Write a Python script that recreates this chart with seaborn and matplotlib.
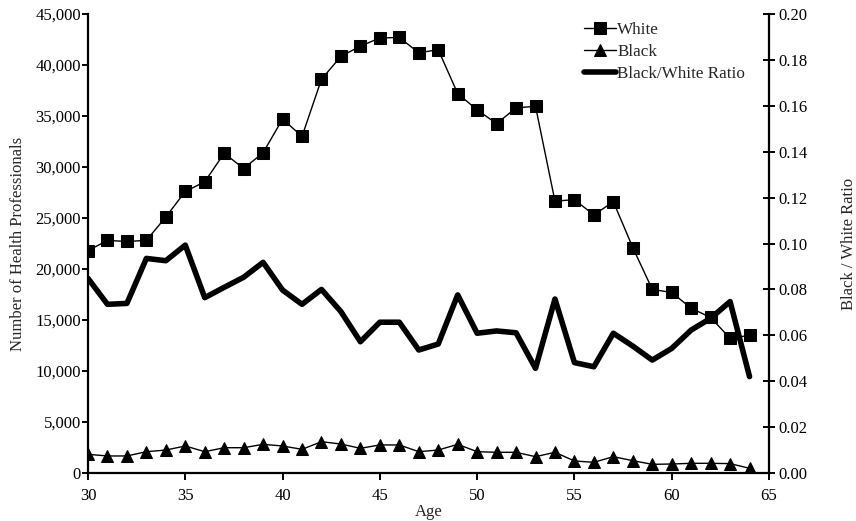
import matplotlib
matplotlib.use("Agg")
import matplotlib.pyplot as plt
import matplotlib.ticker as mticker
import seaborn as sns

# Health professionals by single year of age
ages = list(range(30, 65))
white = [21800, 22800, 22700, 22800, 25100, 27600, 28550, 31350, 29850, 31400,
         34700, 33000, 38600, 40850, 41850, 42650, 42700, 41200, 41500, 37200,
         35600, 34250, 35800, 35950, 26650, 26800, 25300, 26600, 22100, 18000,
         17700, 16150, 15250, 13200, 13500]
black = [1830, 1670, 1670, 2090, 2250, 2650, 2090, 2480, 2480, 2810,
         2650, 2320, 3070, 2840, 2420, 2750, 2750, 2090, 2250, 2810,
         2090, 2030, 2030, 1600, 2030, 1180, 1050, 1600, 1210, 850,
         880, 950, 950, 920, 460]
ratio = [0.0848, 0.0735, 0.0739, 0.0935, 0.0925, 0.0993, 0.0764, 0.0809, 0.0853, 0.0918,
         0.0797, 0.0735, 0.0800, 0.0703, 0.0572, 0.0657, 0.0657, 0.0536, 0.0562, 0.0776,
         0.0609, 0.0619, 0.0611, 0.0456, 0.0758, 0.0481, 0.0463, 0.0609, 0.0553, 0.0492,
         0.0543, 0.0623, 0.0674, 0.0747, 0.0420]

sns.set_theme(style="white")
plt.rcParams["font.family"] = ["Liberation Serif", "DejaVu Serif"]
plt.rcParams["font.size"] = 12

W, H = 856, 521
fig = plt.figure(figsize=(W / 100, H / 100), dpi=100)
ax = fig.add_axes([88 / W, 48 / H, (769 - 88) / W, (473 - 14) / H])

sns.lineplot(x=ages, y=white, ax=ax, color="black", linewidth=1.0,
             marker="s", markersize=9, markeredgecolor="black",
             label="White", legend=False)
sns.lineplot(x=ages, y=black, ax=ax, color="black", linewidth=1.0,
             marker="^", markersize=9, markeredgecolor="black",
             label="Black", legend=False)

ax2 = ax.twinx()
sns.lineplot(x=ages, y=ratio, ax=ax2, color="black", linewidth=4.0,
             label="Black/White Ratio", legend=False)

ax.set_xlim(30, 65)
ax.set_ylim(0, 45000)
ax2.set_ylim(0, 0.20)
ax.xaxis.set_major_locator(mticker.MultipleLocator(5))
ax.yaxis.set_major_locator(mticker.MultipleLocator(5000))
ax.yaxis.set_major_formatter(mticker.FuncFormatter(lambda v, p: f"{int(v):,}"))
ax2.yaxis.set_major_locator(mticker.MultipleLocator(0.02))
ax2.yaxis.set_major_formatter(mticker.FormatStrFormatter("%.2f"))

for a in (ax, ax2):
    a.grid(False)
    a.spines["top"].set_visible(False)
    for s in ("left", "right", "bottom"):
        a.spines[s].set_linewidth(1.6)
        a.spines[s].set_color("black")
ax.spines["right"].set_visible(False)
ax2.spines["left"].set_visible(False)
ax2.spines["bottom"].set_visible(False)

ax.tick_params(axis="y", direction="out", length=4, width=1.4, labelsize=12,
               left=True, pad=1, colors="black")
ax.tick_params(axis="x", direction="out", length=5, width=1.4, labelsize=12,
               bottom=True, pad=6, colors="black")
ax2.tick_params(axis="y", direction="inout", length=8, width=1.4, labelsize=12,
                right=True, pad=3, colors="black")

ax.set_xlabel("Age", fontsize=12, labelpad=0)
ax.set_ylabel("Number of Health Professionals", fontsize=12, labelpad=7)
ax2.set_ylabel("Black / White Ratio", fontsize=12, labelpad=24)

handles = ax.get_lines()[:2] + ax2.get_lines()[:1]
labels = ["White", "Black", "Black/White Ratio"]
ax2.legend(handles, labels, loc="upper left", bbox_to_anchor=(584 / W, 1 - 22 / H),
           bbox_transform=fig.transFigure, frameon=False, fontsize=12.3,
           handlelength=1.85, handletextpad=0.1, labelspacing=0.36,
           borderpad=0, borderaxespad=0)

fig.savefig("out.png", dpi=100, facecolor="white")
